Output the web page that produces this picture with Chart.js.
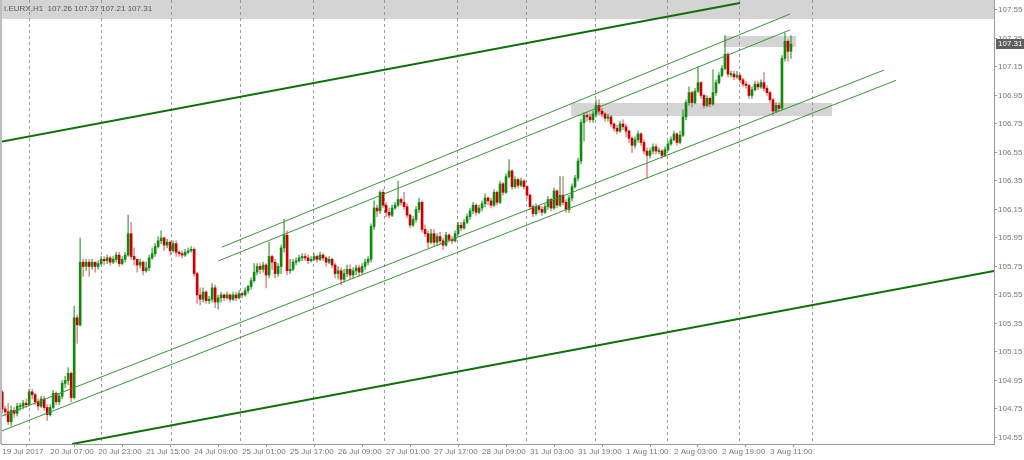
<!DOCTYPE html>
<html>
<head>
<meta charset="utf-8">
<title>I.EURX H1</title>
<script src="https://cdn.jsdelivr.net/npm/chart.js@4.4.0/dist/chart.umd.min.js"></script>
<style>
html,body{margin:0;padding:0;background:#fff;}
#wrap{width:1024px;height:460px;}
</style>
</head>
<body>
<div id="wrap"><canvas id="myChart" width="1024" height="460"></canvas></div>
<script>
// data, one entry per bar (open = previous close)
var firstOpen = 104.87;

var closes = [
	104.75,104.73,104.66,104.74,104.72,104.77,104.77,104.79,104.78,104.87,104.85,104.80,
	104.77,104.82,104.76,104.71,104.76,104.86,104.80,104.84,104.93,104.95,105.00,104.83,
	105.39,105.34,105.78,105.75,105.78,105.75,105.78,105.75,105.77,105.80,105.79,105.81,
	105.78,105.80,105.83,105.77,105.80,105.83,105.98,105.82,105.80,105.76,105.78,105.72,
	105.74,105.81,105.84,105.89,105.93,105.95,105.90,105.92,105.86,105.91,105.85,105.84,
	105.83,105.85,105.86,105.87,105.70,105.55,105.52,105.57,105.51,105.52,105.60,105.50,
	105.53,105.55,105.53,105.55,105.52,105.55,105.53,105.56,105.55,105.58,105.61,105.65,
	105.71,105.75,105.73,105.76,105.69,105.82,105.78,105.70,105.75,105.88,105.97,105.72,
	105.73,105.78,105.79,105.81,105.82,105.81,105.79,105.80,105.82,105.80,105.83,105.81,
	105.78,105.80,105.76,105.70,105.72,105.66,105.70,105.73,105.69,105.72,105.74,105.71,
	105.75,105.78,105.80,106.03,106.16,106.14,106.27,106.18,106.13,106.11,106.16,106.18,
	106.22,106.20,106.17,106.11,106.04,106.08,106.15,106.20,106.01,105.98,105.92,105.98,
	105.92,105.96,105.93,105.90,105.97,105.94,105.93,105.98,106.04,106.02,106.06,106.10,
	106.14,106.18,106.13,106.16,106.19,106.23,106.21,106.18,106.27,106.20,106.33,106.27,
	106.38,106.42,106.31,106.36,106.32,106.35,106.31,106.25,106.17,106.12,106.17,106.15,
	106.13,106.17,106.22,106.16,106.28,106.18,106.25,106.20,106.15,106.23,106.31,106.37,
	106.49,106.76,106.81,106.80,106.78,106.82,106.88,106.84,106.82,106.79,106.80,106.75,
	106.72,106.70,106.75,106.73,106.70,106.65,106.60,106.64,106.68,106.62,106.56,106.53,
	106.56,106.59,106.56,106.56,106.53,106.57,106.61,106.64,106.68,106.62,106.67,106.80,
	106.90,106.97,106.90,106.98,107.04,106.95,106.88,106.93,106.89,106.97,107.04,107.09,
	107.14,107.24,107.10,107.10,107.08,107.09,107.06,107.03,107.02,106.95,106.99,107.03,
	107.01,107.04,107.00,106.97,106.92,106.84,106.88,106.86,107.21,107.33,107.26,107.31
];

var highs = [
	104.88,104.77,104.79,104.77,104.76,104.79,104.79,104.81,104.82,104.89,104.89,104.86,
	104.82,104.84,104.84,104.78,104.78,104.88,104.87,104.86,104.95,104.98,105.04,105.01,
	105.47,105.41,105.95,105.80,105.80,105.80,105.80,105.78,105.79,105.82,105.82,105.83,
	105.82,105.82,105.85,105.85,105.82,105.85,106.11,106.06,105.88,105.80,105.80,105.79,
	105.78,105.83,105.88,105.91,105.96,106.00,105.96,105.94,105.93,105.93,105.93,105.86,
	105.86,105.87,105.88,105.89,105.88,105.71,105.60,105.60,105.58,105.54,105.63,105.62,
	105.55,105.57,105.56,105.57,105.56,105.57,105.57,105.58,105.57,105.60,105.62,105.67,
	105.77,105.77,105.77,105.78,105.77,105.92,105.83,105.80,105.77,105.90,106.08,106.00,
	105.80,105.80,105.81,105.83,105.84,105.84,105.83,105.82,105.84,105.83,105.85,105.84,
	105.82,105.82,105.81,105.77,105.75,105.74,105.73,105.76,105.76,105.74,105.76,105.76,
	105.77,105.80,105.82,106.05,106.21,106.18,106.28,106.29,106.20,106.16,106.18,106.20,
	106.35,106.23,106.27,106.19,106.12,106.10,106.17,106.23,106.21,106.04,106.00,106.01,
	106.01,105.98,105.99,105.95,105.99,105.98,105.96,106.00,106.06,106.06,106.08,106.12,
	106.16,106.20,106.19,106.18,106.21,106.26,106.24,106.23,106.29,106.28,106.35,106.34,
	106.40,106.50,106.43,106.38,106.37,106.37,106.36,106.32,106.26,106.18,106.19,106.18,
	106.17,106.19,106.24,106.23,106.30,106.29,106.38,106.38,106.22,106.25,106.33,106.39,
	106.51,106.78,106.83,106.83,106.82,106.84,106.92,106.92,106.86,106.83,106.82,106.81,
	106.76,106.74,106.77,106.78,106.75,106.71,106.66,106.66,106.70,106.69,106.64,106.58,
	106.58,106.61,106.61,106.58,106.57,106.59,106.63,106.66,106.70,106.69,106.70,106.85,
	106.92,107.01,106.98,107.00,107.15,107.05,106.96,106.95,106.94,107.13,107.06,107.11,
	107.16,107.37,107.25,107.12,107.12,107.12,107.10,107.07,107.05,107.03,107.01,107.05,
	107.05,107.06,107.11,107.02,106.98,106.93,106.90,106.90,107.23,107.39,107.34,107.37
];

var lows = [
	104.72,104.70,104.64,104.63,104.69,104.70,104.74,104.75,104.76,104.77,104.82,104.78,
	104.74,104.76,104.74,104.67,104.70,104.75,104.78,104.78,104.82,104.90,104.92,104.80,
	104.82,105.21,105.33,105.68,105.72,105.68,105.73,105.71,105.73,105.76,105.76,105.77,
	105.76,105.77,105.78,105.75,105.76,105.78,105.82,105.80,105.76,105.71,105.74,105.69,
	105.71,105.72,105.80,105.82,105.88,105.91,105.86,105.88,105.83,105.85,105.82,105.82,
	105.81,105.82,105.84,105.85,105.68,105.49,105.48,105.50,105.49,105.49,105.50,105.46,
	105.45,105.50,105.51,105.52,105.50,105.51,105.51,105.52,105.53,105.54,105.56,105.59,
	105.64,105.69,105.70,105.71,105.60,105.67,105.73,105.67,105.68,105.70,105.85,105.69,
	105.70,105.72,105.76,105.78,105.79,105.79,105.77,105.78,105.79,105.78,105.79,105.79,
	105.75,105.77,105.74,105.67,105.66,105.62,105.64,105.68,105.66,105.67,105.69,105.68,
	105.70,105.73,105.76,105.78,106.01,106.10,106.12,106.16,106.10,106.09,106.10,106.15,
	106.17,106.18,106.15,106.09,106.02,106.03,106.06,106.13,105.99,105.96,105.88,105.91,
	105.89,105.90,105.91,105.87,105.89,105.92,105.91,105.92,105.97,106.00,106.01,106.05,
	106.08,106.12,106.11,106.12,106.14,106.17,106.18,106.16,106.17,106.18,106.19,106.25,
	106.26,106.37,106.29,106.30,106.30,106.31,106.29,106.23,106.15,106.10,106.11,106.13,
	106.11,106.12,106.15,106.14,106.15,106.16,106.17,106.18,106.13,106.13,106.21,106.30,
	106.35,106.47,106.63,106.77,106.76,106.76,106.80,106.82,106.80,106.77,106.77,106.73,
	106.70,106.68,106.69,106.71,106.66,106.62,106.55,106.58,106.62,106.60,106.54,106.37,
	106.51,106.54,106.54,106.54,106.51,106.52,106.56,106.60,106.63,106.60,106.61,106.66,
	106.78,106.88,106.87,106.89,106.97,106.93,106.86,106.87,106.87,106.88,106.95,107.03,
	107.08,107.13,107.08,107.08,107.06,107.07,107.04,107.01,107.00,106.93,106.93,106.98,
	106.99,107.00,106.98,106.95,106.90,106.81,106.83,106.84,106.85,107.19,107.19,107.21
];

// time labels, one every 16 bars
var xTickLabels = ['19 Jul 2017','20 Jul 07:00','20 Jul 23:00','21 Jul 15:00','24 Jul 09:00',
	'25 Jul 01:00','25 Jul 17:00','26 Jul 09:00','27 Jul 01:00','27 Jul 17:00','28 Jul 09:00',
	'31 Jul 03:00','31 Jul 19:00','1 Aug 11:00','2 Aug 03:00','2 Aug 19:00','3 Aug 11:00'];
var xTickStep = 16;

var yTicks = [104.55,104.75,104.95,105.15,105.35,105.55,105.75,105.95,
	106.15,106.35,106.55,106.75,106.95,107.15,107.35,107.55];

var headerText = 'I.EURX,H1  107.26 107.37 107.21 107.31';

// drawn objects, ends as [bar, price]
var trendThickTop = [[-0.67,106.624],[246,107.599]];
var trendThickBottom = [[23.3,104.504],[330.7,105.718]];
var channelUpA = [[73.2,105.885],[262.7,107.522]];
var channelUpB = [[72.1,105.789],[262.7,107.41]];
var channelLowA = [[-0.67,104.696],[294,107.128]];
var channelLowB = [[-0.67,104.591],[298,107.056]];

// grey boxes [bar from, bar to, price low, price high]
var boxTopBand = [-1, 331, 107.487, 107.70];
var boxHigh = [240.7, 264.7, 107.290, 107.367];
var boxMid = [189.7, 276.7, 106.806, 106.897];

//function's start
function toPoints(pair){
	return [{x:pair[0][0], y:pair[0][1]}, {x:pair[1][0], y:pair[1][1]}];
}

function build_candles(){
	var out = {wicks:[], bodies:[], bodyColors:[], wickColors:[]};
	for(var i = 0; i < closes.length; i++){
		var o = (i == 0) ? firstOpen : closes[i-1];
		var c = closes[i];
		var lo = Math.min(o,c), hi = Math.max(o,c);
		if(hi - lo < 0.006){
			var m = (hi + lo) / 2;
			lo = m - 0.004; hi = m + 0.004;
		}
		out.wicks.push({x:i, y:[Math.min(lows[i],lo), Math.max(highs[i],hi)]});
		out.bodies.push({x:i, y:[lo,hi]});
		if(c >= o){
			out.bodyColors.push('#0f8a0f');
			out.wickColors.push('rgba(40,140,40,0.65)');
		}else{
			out.bodyColors.push('#c80000');
			out.wickColors.push('rgba(200,60,60,0.55)');
		}
	}
	return out;
}

function lineSet(pair, color, width){
	return {
		type:'line',
		data:toPoints(pair),
		borderColor:color,
		borderWidth:width,
		pointRadius:0,
		fill:false,
		tension:0,
		order:0
	};
}

var gridBars = [9, 33, 56.3, 79.3, 103.6, 127.4, 151.6, 174.7, 197.7, 221.8, 245.8, 270];

var mtPlugin = {
	id:'mtPlugin',
	beforeDatasetsDraw:function(chart){
		var ctx = chart.ctx, xs = chart.scales.x, ys = chart.scales.y, a = chart.chartArea;
		ctx.save();
		ctx.beginPath();
		ctx.rect(a.left, a.top, a.right - a.left, a.bottom - a.top);
		ctx.clip();
		[boxTopBand, boxHigh, boxMid].forEach(function(b){
			var x1 = xs.getPixelForValue(b[0]), x2 = xs.getPixelForValue(b[1]);
			var y1 = ys.getPixelForValue(b[3]), y2 = ys.getPixelForValue(b[2]);
			ctx.fillStyle = '#d4d4d4';
			ctx.fillRect(x1, y1, x2 - x1, y2 - y1);
		});
		// dashed vertical grid
		ctx.strokeStyle = '#9a9a9a';
		ctx.lineWidth = 1;
		ctx.setLineDash([3,3]);
		gridBars.forEach(function(g){
			var x = Math.round(xs.getPixelForValue(g)) + 0.5;
			ctx.beginPath();
			ctx.moveTo(x, a.top);
			ctx.lineTo(x, a.bottom);
			ctx.stroke();
		});
		ctx.restore();
	},
	afterDraw:function(chart){
		var ctx = chart.ctx, ys = chart.scales.y, a = chart.chartArea;
		ctx.save();
		// left frame
		ctx.strokeStyle = '#bdbdbd';
		ctx.lineWidth = 2;
		ctx.beginPath();
		ctx.moveTo(a.left, a.top);
		ctx.lineTo(a.left, a.bottom);
		ctx.stroke();
		// symbol header
		ctx.font = '8px "Liberation Sans"';
		ctx.fillStyle = '#5a5a5a';
		ctx.textBaseline = 'middle';
		ctx.textAlign = 'left';
		ctx.fillText(headerText, 4, 9);
		// last price box
		var last = closes[closes.length - 1];
		var y = Math.round(ys.getPixelForValue(last));
		ctx.fillStyle = '#5e5e5e';
		ctx.fillRect(a.right + 2, y - 5, 28, 10);
		ctx.fillStyle = '#ffffff';
		ctx.fillText(last.toFixed(2), a.right + 4, y);
		ctx.restore();
	}
};
//function's end

var candles = build_candles();
var tickFont = {family:'"Liberation Sans"', size:8};

var ctx = document.getElementById('myChart');
var myChart = new Chart(ctx, {
	type:'bar',
	data:{
		datasets:[
			lineSet(trendThickTop, '#0b720b', 2),
			lineSet(trendThickBottom, '#0b720b', 2),
			lineSet(channelUpA, '#3a943a', 1),
			lineSet(channelUpB, '#3a943a', 1),
			lineSet(channelLowA, '#3a943a', 1),
			lineSet(channelLowB, '#3a943a', 1),
			{
				data:candles.bodies,
				backgroundColor:candles.bodyColors,
				barThickness:2,
				grouped:false,
				borderWidth:0,
				order:1
			},
			{
				data:candles.wicks,
				backgroundColor:candles.wickColors,
				barThickness:1,
				grouped:false,
				borderWidth:0,
				order:2
			}
		]
	},
	options:{
		responsive:false,
		animation:false,
		devicePixelRatio:1,
		layout:{padding:{left:1, right:0, top:0, bottom:0}},
		plugins:{legend:{display:false}, tooltip:{enabled:false}},
		scales:{
			x:{
				type:'linear',
				min:-0.4,
				max:330.7,
				offset:false,
				afterBuildTicks:function(axis){
					axis.ticks = xTickLabels.map(function(l,k){ return {value:k*xTickStep}; });
				},
				afterFit:function(axis){
					axis.height = 16;
					axis.paddingLeft = 0;
					axis.paddingRight = 0;
				},
				ticks:{
					autoSkip:false,
					maxRotation:0,
					align:'start',
					padding:0,
					color:'#777777',
					font:tickFont,
					callback:function(v, idx){ return xTickLabels[idx]; }
				},
				grid:{display:true, drawOnChartArea:false, drawTicks:true, tickLength:3, color:'#9a9a9a'},
				border:{display:true, color:'#9a9a9a'}
			},
			y:{
				position:'right',
				min:104.504,
				max:107.62,
				afterBuildTicks:function(axis){
					axis.ticks = yTicks.map(function(v){ return {value:v}; });
				},
				afterFit:function(axis){
					axis.width = 30;
					axis.paddingTop = 0;
					axis.paddingBottom = 0;
				},
				ticks:{
					padding:1,
					color:'#777777',
					font:tickFont,
					callback:function(v){ return Number(v).toFixed(2); }
				},
				grid:{display:true, drawOnChartArea:false, drawTicks:true, tickLength:3, color:'#9a9a9a'},
				border:{display:true, color:'#9a9a9a'}
			}
		}
	},
	plugins:[mtPlugin]
});
</script>
</body>
</html>
